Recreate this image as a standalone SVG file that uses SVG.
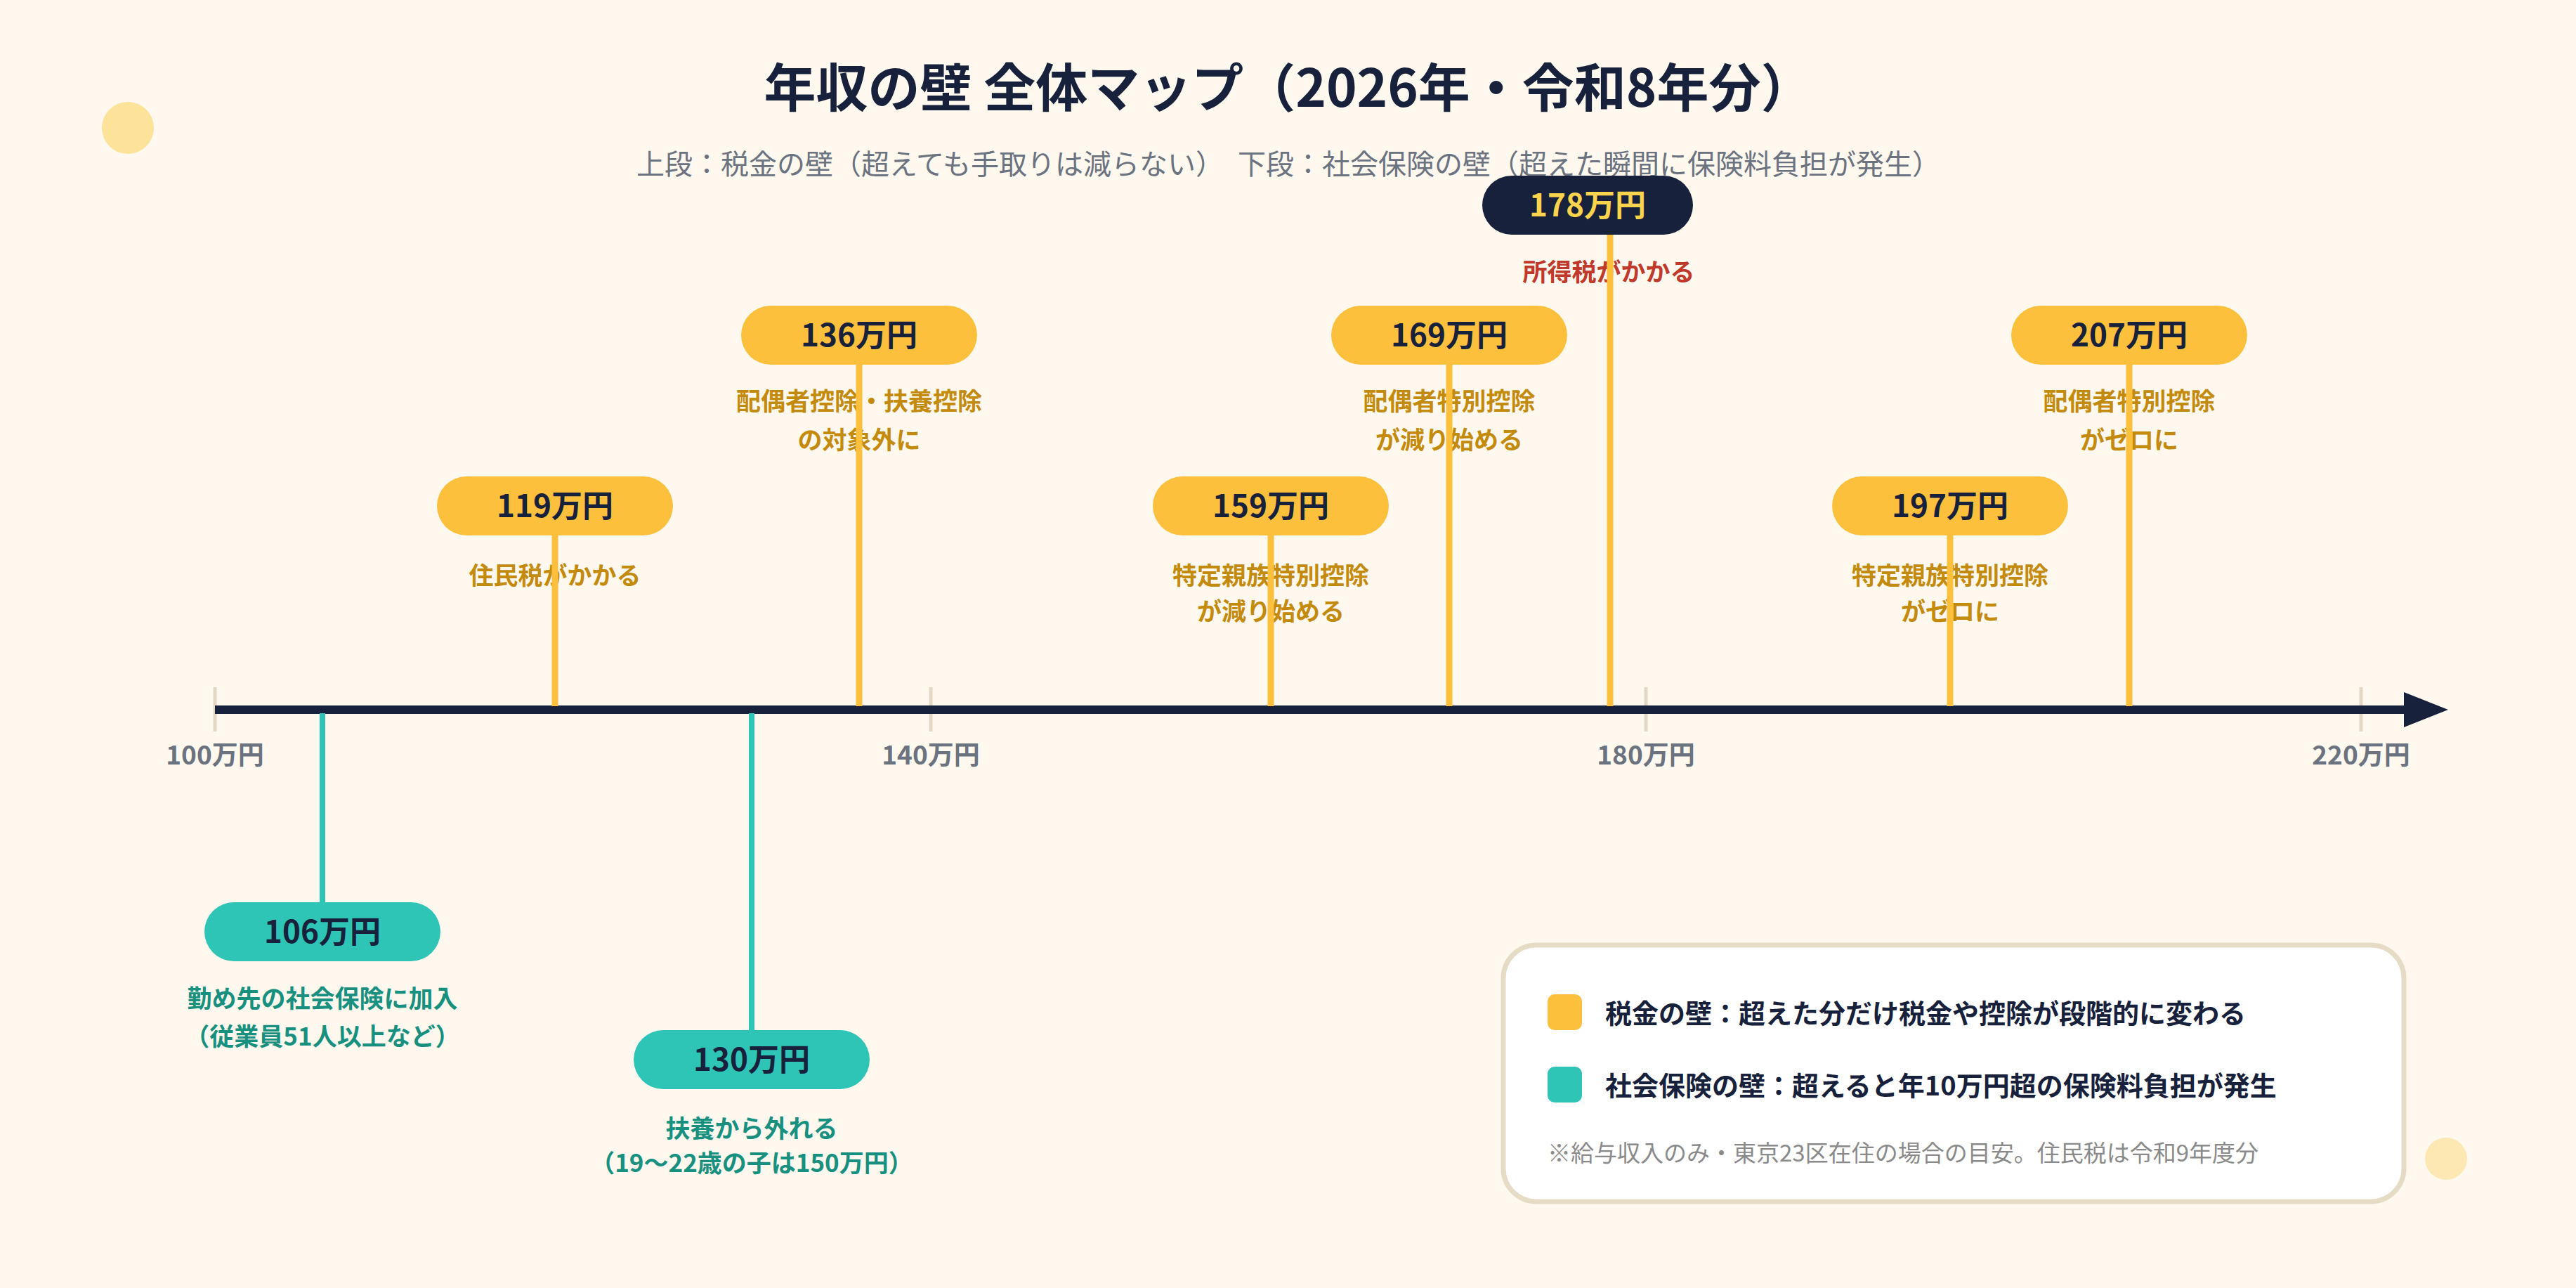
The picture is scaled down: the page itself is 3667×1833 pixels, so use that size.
<svg xmlns="http://www.w3.org/2000/svg" width="3667" height="1833" viewBox="0 0 3667 1833">
<style>
text{font-family:"Noto Sans CJK JP","Noto Sans",sans-serif;text-anchor:middle}
.pill{fill:#fdc03d}
.tp{fill:#17213b;font-size:44px;font-weight:700}
.dy{fill:#c48a0c;font-size:35px;font-weight:700}
.dt{fill:#17907f;font-size:35px;font-weight:700}
.ty{stroke:#fdc03d;stroke-width:9}
.tt{stroke:#2ec4b6;stroke-width:8}
.tick{stroke:#e2d8c4;stroke-width:5}
.ax{fill:#6b7280;font-size:37px;font-weight:700}
</style>
<rect width="3667" height="1833" fill="#fff8ee"/>
<circle cx="182" cy="182" r="37" fill="#fde29a"/>
<circle cx="3482" cy="1649" r="30" fill="#fde8b4"/>
<text x="1834" y="152" font-size="74" font-weight="700" fill="#17213b">年収の壁 全体マップ（2026年・令和8年分）</text>
<text x="1834" y="248" font-size="40" fill="#6b7280">上段：税金の壁（超えても手取りは減らない）　下段：社会保険の壁（超えた瞬間に保険料負担が発生）</text>
<g id="axis">
<line class="tick" x1="306" y1="978" x2="306" y2="1041"/>
<line class="tick" x1="1325" y1="978" x2="1325" y2="1041"/>
<line class="tick" x1="2343" y1="978" x2="2343" y2="1041"/>
<line class="tick" x1="3361" y1="978" x2="3361" y2="1041"/>
<line x1="306" y1="1010" x2="3430" y2="1010" stroke="#17213b" stroke-width="12"/>
<polygon points="3422,985 3485,1010 3422,1035" fill="#17213b"/>
<text class="ax" x="306" y="1088">100万円</text>
<text class="ax" x="1325" y="1088">140万円</text>
<text class="ax" x="2343" y="1088">180万円</text>
<text class="ax" x="3361" y="1088">220万円</text>
</g>
<g id="n119"><rect class="pill" x="622" y="678" width="336" height="84" rx="42"/><text class="tp" x="790" y="736">119万円</text><text class="dy" x="790" y="832">住民税がかかる</text></g>
<g id="n159"><rect class="pill" x="1641" y="678" width="336" height="84" rx="42"/><text class="tp" x="1809" y="736">159万円</text><text class="dy" x="1809" y="832">特定親族特別控除</text><text class="dy" x="1809" y="883">が減り始める</text></g>
<g id="n197"><rect class="pill" x="2608" y="678" width="336" height="84" rx="42"/><text class="tp" x="2776" y="736">197万円</text><text class="dy" x="2776" y="832">特定親族特別控除</text><text class="dy" x="2776" y="883">がゼロに</text></g>
<g id="n136"><rect class="pill" x="1055" y="435" width="336" height="84" rx="42"/><text class="tp" x="1223" y="493">136万円</text><text class="dy" x="1223" y="584">配偶者控除・扶養控除</text><text class="dy" x="1223" y="639">の対象外に</text></g>
<g id="n169"><rect class="pill" x="1895" y="435" width="336" height="84" rx="42"/><text class="tp" x="2063" y="493">169万円</text><text class="dy" x="2063" y="584">配偶者特別控除</text><text class="dy" x="2063" y="639">が減り始める</text></g>
<g id="n207"><rect class="pill" x="2863" y="435" width="336" height="84" rx="42"/><text class="tp" x="3031" y="493">207万円</text><text class="dy" x="3031" y="584">配偶者特別控除</text><text class="dy" x="3031" y="639">がゼロに</text></g>
<g id="n178"><rect x="2110" y="250" width="300" height="84" rx="42" fill="#17213b"/><text class="tp" x="2260" y="308" fill="#fcd34d" style="fill:#fcd34d">178万円</text><text x="2290" y="400" font-size="35" font-weight="700" fill="#c0392b">所得税がかかる</text></g>
<g id="n106"><rect x="291" y="1284" width="336" height="84" rx="42" fill="#2ec4b6"/><text class="tp" x="459" y="1342">106万円</text><text class="dt" x="459" y="1434">勤め先の社会保険に加入</text><text class="dt" x="459" y="1488">（従業員51人以上など）</text></g>
<g id="n130"><rect x="902" y="1466" width="336" height="84" rx="42" fill="#2ec4b6"/><text class="tp" x="1070" y="1524">130万円</text><text class="dt" x="1070" y="1619">扶養から外れる</text><text class="dt" x="1070" y="1668">（19〜22歳の子は150万円）</text></g>
<g id="connectors">
<line class="ty" x1="790" y1="762" x2="790" y2="1005"/>
<line class="ty" x1="1809" y1="762" x2="1809" y2="1005"/>
<line class="ty" x1="2776" y1="762" x2="2776" y2="1005"/>
<line class="ty" x1="1223" y1="519" x2="1223" y2="1005"/>
<line class="ty" x1="2063" y1="519" x2="2063" y2="1005"/>
<line class="ty" x1="3031" y1="519" x2="3031" y2="1005"/>
<line class="ty" x1="2292" y1="334" x2="2292" y2="1005"/>
<line class="tt" x1="459" y1="1015" x2="459" y2="1284"/>
<line class="tt" x1="1070" y1="1015" x2="1070" y2="1466"/>
</g>
<g id="legend">
<rect x="2140" y="1345" width="1282" height="365" rx="47" fill="#fff" stroke="#e6dcc6" stroke-width="7"/>
<rect x="2203" y="1415" width="49" height="51" rx="10" fill="#fdc03d"/>
<text x="2285" y="1456" font-size="38" font-weight="700" fill="#17213b" text-anchor="start" style="text-anchor:start">税金の壁：超えた分だけ税金や控除が段階的に変わる</text>
<rect x="2203" y="1518" width="49" height="51" rx="10" fill="#2ec4b6"/>
<text x="2285" y="1559" font-size="38" font-weight="700" fill="#17213b" style="text-anchor:start">社会保険の壁：超えると年10万円超の保険料負担が発生</text>
<text x="2203" y="1653" font-size="33" fill="#8a8a8a" style="text-anchor:start">※給与収入のみ・東京23区在住の場合の目安。住民税は令和9年度分</text>
</g>
</svg>
